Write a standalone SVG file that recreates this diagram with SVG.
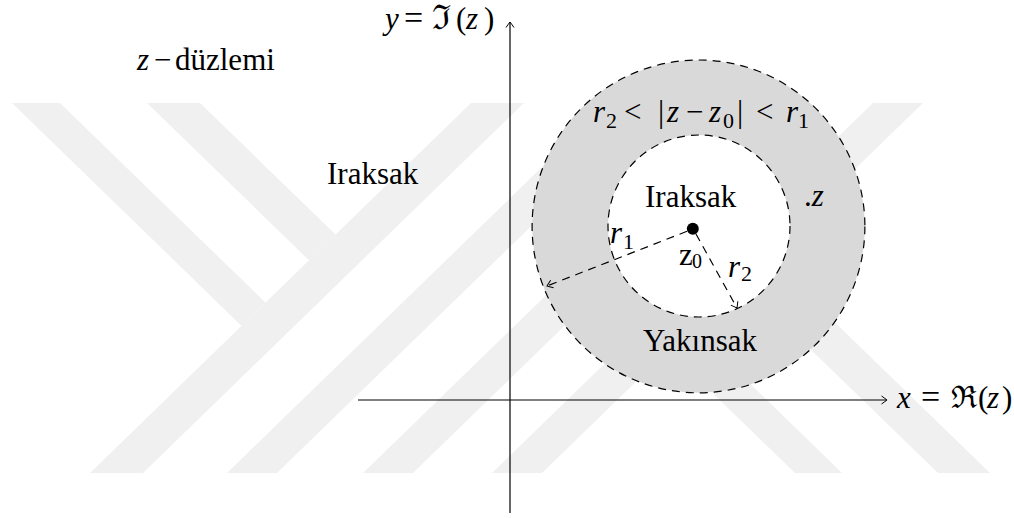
<svg xmlns="http://www.w3.org/2000/svg" width="1014" height="518" viewBox="0 0 1014 518">
<style>
text{font-family:"Liberation Serif","DejaVu Serif",serif;font-size:31px;fill:#000}
.i{font-style:italic}
.s{font-size:22px}
.eq{font-size:34px}
.fk{font-size:34px}
.wm{fill:#f0f0f0}
.dash{fill:none;stroke:#000;stroke-width:1.2;stroke-dasharray:8 6}
.ax{fill:none;stroke:#000;stroke-width:1.2}
</style>
<defs>
<marker id="ah" viewBox="-7 -6 9 12" refX="0" refY="0" markerWidth="9" markerHeight="12" orient="auto" markerUnits="userSpaceOnUse">
<path d="M-5.5,-4 Q-1.5,-1.2 0,0 Q-1.5,1.2 -5.5,4" fill="none" stroke="#000" stroke-width="1"/>
</marker>
</defs>
<rect x="0" y="0" width="1014" height="518" fill="#fff"/>
<g id="watermark">
<polygon class="wm" points="90,473 143,473 524,103 471,103"/>
<polygon class="wm" points="227,473 277,473 658,103 608,103"/>
<polygon class="wm" points="363,473 413,473 794,103 744,103"/>
<polygon class="wm" points="492,473 542,473 923,103 873,103"/>
<polygon class="wm" points="12,103 60,103 265.5,302.6 241.6,325.9"/>
<polygon class="wm" points="147,103 200,103 335.6,234.6 309,260.3"/>
<polygon class="wm" points="795,473 842,473 692,327.4 668.5,350.2"/>
<polygon class="wm" points="938,473 990,473 766,255.5 740,280.8"/>
</g>
<g id="annulus">
<circle cx="698.5" cy="226.4" r="166.4" class="dash" style="fill:#d9d9d9"/>
<circle cx="699" cy="226" r="91" class="dash" style="fill:#fff"/>
</g>
<g id="connectors">
<line class="ax" x1="358" y1="400" x2="887" y2="400" marker-end="url(#ah)"/>
<line class="ax" x1="510" y1="513" x2="510" y2="22" marker-end="url(#ah)"/>
<line class="dash" x1="687" y1="231.3" x2="547" y2="286" marker-end="url(#ah)"/>
<line class="dash" x1="696" y1="234" x2="737" y2="308" marker-end="url(#ah)"/>
</g>
<g id="center">
<circle cx="692.8" cy="228.7" r="6" fill="#000"/>
</g>
<g id="label-y">
<text y="29"><tspan x="385" class="i">y</tspan><tspan x="404" class="eq">=</tspan><tspan x="432" class="fk">ℑ</tspan><tspan x="456">(</tspan><tspan x="466" class="i">z</tspan><tspan x="484">)</tspan></text>
</g>
<g id="label-x">
<text y="408"><tspan x="897" class="i">x</tspan><tspan x="921" class="eq">=</tspan><tspan x="951">ℜ</tspan><tspan x="978">(</tspan><tspan x="987" class="i">z</tspan><tspan x="1002">)</tspan></text>
</g>
<g id="label-plane">
<text y="70"><tspan x="137" class="i">z</tspan><tspan x="154">−</tspan><tspan x="175">düzlemi</tspan></text>
</g>
<g id="label-iraksak-out">
<text x="327" y="184">Iraksak</text>
</g>
<g id="label-iraksak-in">
<text x="645" y="207">Iraksak</text>
</g>
<g id="label-yakinsak">
<text x="643" y="351">Yakınsak</text>
</g>
<g id="label-z">
<text x="804" y="206">.<tspan class="i">z</tspan></text>
</g>
<g id="label-region">
<text><tspan x="593" y="122" class="i">r</tspan><tspan x="606" y="128" class="s">2</tspan><tspan x="624" y="122">&lt;</tspan><tspan x="658" y="122">|</tspan><tspan x="667" y="122" class="i">z</tspan><tspan x="686" y="122">−</tspan><tspan x="709" y="122" class="i">z</tspan><tspan x="723" y="128" class="s">0</tspan><tspan x="737" y="122">|</tspan><tspan x="756" y="122">&lt;</tspan><tspan x="786" y="122" class="i">r</tspan><tspan x="798" y="128" class="s">1</tspan></text>
</g>
<g id="label-r1">
<text><tspan x="610" y="243" class="i">r</tspan><tspan x="623" y="249" class="s">1</tspan></text>
</g>
<g id="label-z0">
<text><tspan x="679" y="265">z</tspan><tspan x="692" y="268" style="font-size:20px">0</tspan></text>
</g>
<g id="label-r2">
<text><tspan x="728" y="277" class="i">r</tspan><tspan x="741" y="281" class="s">2</tspan></text>
</g>
</svg>
